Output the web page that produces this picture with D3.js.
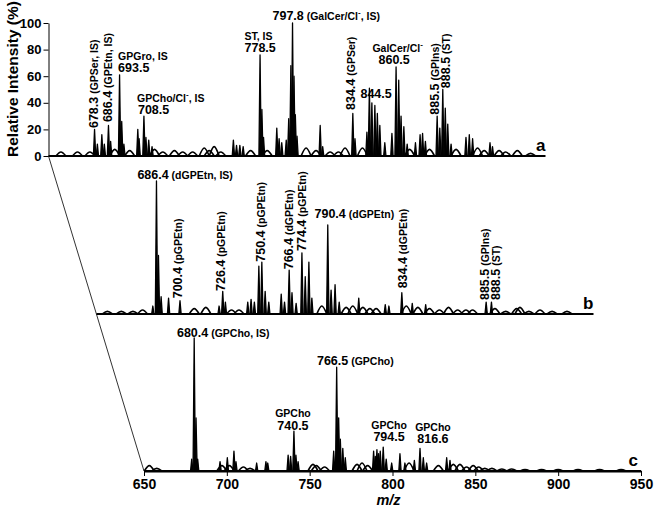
<!DOCTYPE html>
<html>
<head>
<meta charset="utf-8">
<script src="https://cdn.jsdelivr.net/npm/d3@7"></script>
<style>
  body { margin: 0; background: #fff; }
  svg { font-family: "Liberation Sans", Arial, Helvetica, sans-serif; font-weight: bold; }
</style>
</head>
<body>
<div id="chart"></div>
<script>
// Spectrum a: sharp peaks [m/z, relative intensity %]
const peaksA = [
  [677.8, 20], [679.5, 9], [682.2, 16], [683.7, 9], [686.2, 23], [687.5, 11],
  [692.9, 61], [694.2, 26], [695.5, 9], [703.9, 20], [704.7, 13], [707.6, 30],
  [708.8, 14], [710.5, 12], [712.5, 7], [761.6, 12], [763.5, 8], [765.5, 8],
  [767.5, 7], [777.7, 76], [778.8, 35], [779.8, 14], [787.8, 21], [789.2, 13],
  [790.8, 10], [793.5, 12], [795, 28], [796.3, 68], [797.3, 100], [798.2, 60],
  [799, 31], [800, 15], [814, 23], [815.5, 7], [833.7, 32], [835, 13],
  [842.2, 18], [843.7, 51], [845.2, 40], [847, 38], [848.5, 32], [850, 23],
  [853, 10], [857.3, 17], [859.8, 67], [861.4, 57], [862.8, 30], [864.5, 22],
  [866.5, 9], [871.5, 10], [874.3, 16], [875.8, 17], [877.5, 11], [884.6, 30],
  [886.2, 21], [888, 50], [889.5, 36], [891, 24], [893, 9], [902, 14],
  [904, 16], [906, 13], [916.5, 10], [918, 7]
];
// Spectrum a: broad low baseline features
const humpsA = [
  [657.5, 3], [667.5, 3], [675, 3], [690, 5], [699, 4], [714, 5], [719, 3],
  [726, 4], [731, 3], [737, 3], [744, 6], [747, 4], [750, 7], [754, 3],
  [772, 4], [782, 4], [805.5, 6], [811.5, 4], [820, 3], [825, 3], [829, 6],
  [839.5, 6], [868, 5], [880, 5], [896, 5], [909, 6], [913, 4], [922, 4],
  [926, 3], [933, 4], [941, 2]
];

// Spectrum b
const peaksB = [
  [684, 6], [686.2, 100], [687.4, 44], [689, 13], [693.5, 12], [700.4, 10],
  [724, 6], [726.2, 17], [727.8, 9], [741.3, 9], [743.3, 11], [745.3, 9],
  [748, 36], [749.8, 39], [751.8, 17], [754, 9], [761.5, 15], [763.5, 9],
  [766.3, 33], [768, 16], [770.5, 8], [774, 46], [776, 28], [778.2, 39],
  [780, 12], [789.6, 67], [791.6, 18], [794, 22], [796.5, 9], [808.3, 12],
  [824.3, 7], [826.5, 6], [834.3, 16], [840.6, 8], [848.7, 7], [885.2, 9],
  [888.4, 9]
];
const humpsB = [
  [656.6, 2], [665, 2], [672, 2], [677.8, 3], [709, 4], [716, 5], [731.5, 3],
  [736, 3], [786, 6], [800.7, 5], [804.7, 6], [810.8, 5], [815, 4], [818.8, 4],
  [837, 6], [844, 5], [851, 4], [857, 3], [862.5, 5], [868, 3], [873, 3],
  [877, 3], [890.5, 4], [897, 2], [903.6, 4], [905.6, 5], [911, 2], [917.7, 3],
  [925, 2], [934, 2]
];

// Spectrum c
const peaksC = [
  [678.8, 9], [680.3, 100], [681.4, 40], [682.4, 9], [695.9, 7], [700.3, 10],
  [704.3, 15], [705.5, 7], [718, 6], [723.6, 7], [724.7, 6], [737, 12],
  [738.5, 11], [740.5, 30], [741.7, 12], [743, 7], [764.5, 15], [766.3, 78],
  [767.5, 40], [768.5, 24], [770, 17], [771.5, 10], [788.6, 15], [789.6, 11],
  [790.6, 16], [791.6, 13], [792.6, 15], [794.4, 18], [796.2, 9], [799.5, 6],
  [804.5, 13], [807.5, 6], [813.2, 8], [816.6, 17], [818.6, 10], [820.6, 6],
  [832.7, 10], [834.7, 8]
];
const humpsC = [
  [653.2, 4], [657.7, 2], [697, 4], [701.5, 4], [710, 3], [714, 2], [752, 5],
  [754, 4], [759, 3], [778.6, 5], [781.6, 6], [785, 4], [810, 6], [827.7, 4],
  [836.7, 5], [840.7, 5], [844.7, 3], [848.7, 4], [852, 3], [855.7, 2],
  [860, 2], [866, 1.5], [872, 1.5], [880, 1], [890, 1], [900, 1], [912, 1],
  [925, 1], [938, 1]
];

// Axis ticks
const mzTicks = [650, 700, 750, 800, 850, 900, 950];
const intensityTicks = [0, 20, 40, 60, 80, 100];

// Peak annotation texts per spectrum
const labelsA = ["678.3 (GPSer, IS)", "686.4 (GPEtn, IS)", "GPGro, IS", "693.5",
  "GPCho/Cl⁻, IS", "708.5", "ST, IS", "778.5", "797.8 (GalCer/Cl⁻, IS)",
  "834.4 (GPSer)", "844.5", "GalCer/Cl⁻", "860.5", "885.5 (GPIns)", "888.5 (ST)"];
const labelsB = ["686.4 (dGPEtn, IS)", "700.4 (pGPEtn)", "726.4 (pGPEtn)",
  "750.4 (pGPEtn)", "766.4 (dGPEtn)", "774.4 (pGPEtn)", "790.4 (dGPEtn)",
  "834.4 (dGPEtn)", "885.5 (GPIns)", "888.5 (ST)"];
const labelsC = ["680.4 (GPCho, IS)", "GPCho", "740.5", "766.5 (GPCho)",
  "GPCho", "794.5", "GPCho", "816.6"];

// Where each annotation sits, in data units [m/z, intensity], rotated?, anchor
const layoutA = [
  [677, 21, true], [685.8, 25.5, true], [692, 72], [692, 63.5], [703.4, 40.6],
  [704, 31.6], [768.3, 87.5], [768.3, 78.2], [785.2, 102.3], [832.6, 34.6, true],
  [838.3, 43.6], [845.5, 78.2], [849.2, 69.2], [883, 31, true], [889.6, 51, true]
];
const layoutB = [
  [674.7, 101.5], [699.1, 11.8, true], [725.2, 17.3, true], [748.8, 39.3, true],
  [766.1, 33.6, true], [774.1, 47.4, true], [781.6, 72], [834.5, 19.3, true],
  [884.2, 10.5, true], [891, 10.5, true]
];
const layoutC = [
  [669.9, 101], [739.9, 40.5, false, "middle"], [739.9, 30.5, false, "middle"],
  [754.4, 80], [797.9, 31.5, false, "middle"], [797.9, 22.5, false, "middle"],
  [824.4, 30, false, "middle"], [824.4, 21, false, "middle"]
];

const W = 657, H = 508;
const plotW = 497, plotH = 133;

const x = d3.scaleLinear().domain([650, 950]).range([0, plotW]);
const y = d3.scaleLinear().domain([0, 100]).range([0, -plotH]);

const traces = [
  { key: "a", peaks: peaksA, humps: humpsA, labels: labelsA, layout: layoutA, origin: [48.5, 156] },
  { key: "b", peaks: peaksB, humps: humpsB, labels: labelsB, layout: layoutB, origin: [96.5, 314] },
  { key: "c", peaks: peaksC, humps: humpsC, labels: labelsC, layout: layoutC, origin: [144, 471] }
];

const svg = d3.select("#chart").append("svg")
  .attr("width", W)
  .attr("height", H);

// Perspective guide line through the start of each spectrum
svg.append("line")
  .attr("x1", traces[0].origin[0]).attr("y1", traces[0].origin[1])
  .attr("x2", traces[2].origin[0]).attr("y2", traces[2].origin[1])
  .attr("stroke", "#333")
  .attr("stroke-width", 1);

const spike = d3.line().x(d => x(d[0])).y(d => y(d[1]));
const bump = d3.line().x(d => x(d[0])).y(d => y(d[1])).curve(d3.curveMonotoneX);

traces.forEach(t => {
  const g = svg.append("g")
    .attr("transform", `translate(${t.origin[0]},${t.origin[1]})`);

  // baseline
  g.append("path")
    .attr("d", spike([[650, 0], [950, 0]]))
    .attr("stroke", "#000")
    .attr("stroke-width", 2)
    .attr("fill", "none");

  // low broad features along the baseline
  g.selectAll("path.hump")
    .data(t.humps)
    .join("path")
    .attr("class", "hump")
    .attr("d", d => bump([[d[0] - 3, 0], [d[0], d[1]], [d[0] + 3, 0]]))
    .attr("fill", "none")
    .attr("stroke", "#000")
    .attr("stroke-width", 1.7)
    .attr("stroke-linejoin", "round");

  g.selectAll("path.peak")
    .data(t.peaks)
    .join("path")
    .attr("class", "peak")
    .attr("d", d => spike([[d[0] - 0.7, 0], [d[0], d[1]], [d[0] + 0.7, 0]]))
    .attr("fill", "#000")
    .attr("stroke", "#000")
    .attr("stroke-width", 1.3)
    .attr("stroke-linejoin", "round");

  // annotations
  t.labels.forEach((s, i) => {
    const [mz, lv, rot, anchor] = t.layout[i];
    const text = g.append("text")
      .attr("text-anchor", anchor || "start")
      .attr("font-size", 12.5)
      .attr("transform", `translate(${x(mz)},${y(lv)})` + (rot ? " rotate(-90)" : ""))
      .attr("dy", rot ? "0.35em" : null);
    const m = s.match(/^(\d{3}\.\d)(.*)$/);
    let rest = s;
    if (m) {
      text.append("tspan").text(m[1]);
      rest = m[2];
    }
    rest.split("⁻").forEach((piece, j) => {
      if (j > 0) {
        text.append("tspan").attr("font-size", 8).attr("dy", -5).text("-");
        text.append("tspan").attr("font-size", 10.5).attr("dy", 5).text(piece);
      } else if (piece) {
        text.append("tspan").attr("font-size", 10.5).text(piece);
      }
    });
  });

  // spectrum letter
  g.append("text")
    .attr("x", x(950) - (t.key === "c" ? 3 : 0))
    .attr("y", -5)
    .attr("text-anchor", "end")
    .attr("font-size", 17)
    .text(t.key);
});

// Bottom m/z axis on spectrum c
const xAxis = svg.append("g")
  .attr("transform", `translate(${traces[2].origin[0]},${traces[2].origin[1]})`)
  .call(d3.axisBottom(x).tickValues(mzTicks).tickSize(5).tickPadding(3).tickSizeOuter(0));
xAxis.select(".domain").attr("stroke-width", 2);
xAxis.selectAll("text")
  .attr("font-family", "'Liberation Sans', Arial, sans-serif")
  .attr("font-weight", "bold")
  .attr("font-size", 14);

svg.append("text")
  .attr("x", traces[2].origin[0] + x(800) - 4)
  .attr("y", 505)
  .attr("text-anchor", "middle")
  .attr("font-size", 14.5)
  .attr("font-style", "italic")
  .text("m/z");

// Intensity axis on spectrum a
const yAxis = svg.append("g")
  .attr("transform", `translate(${traces[0].origin[0]},${traces[0].origin[1]})`)
  .call(d3.axisLeft(y).tickValues(intensityTicks).tickSize(5).tickPadding(2).tickSizeOuter(0));
yAxis.selectAll("text")
  .attr("font-family", "'Liberation Sans', Arial, sans-serif")
  .attr("font-weight", "bold")
  .attr("font-size", 13);

svg.append("text")
  .attr("transform", "translate(17.5,79) rotate(-90)")
  .attr("text-anchor", "middle")
  .attr("font-size", 15.5)
  .text("Relative Intensity (%)");
</script>
</body>
</html>
